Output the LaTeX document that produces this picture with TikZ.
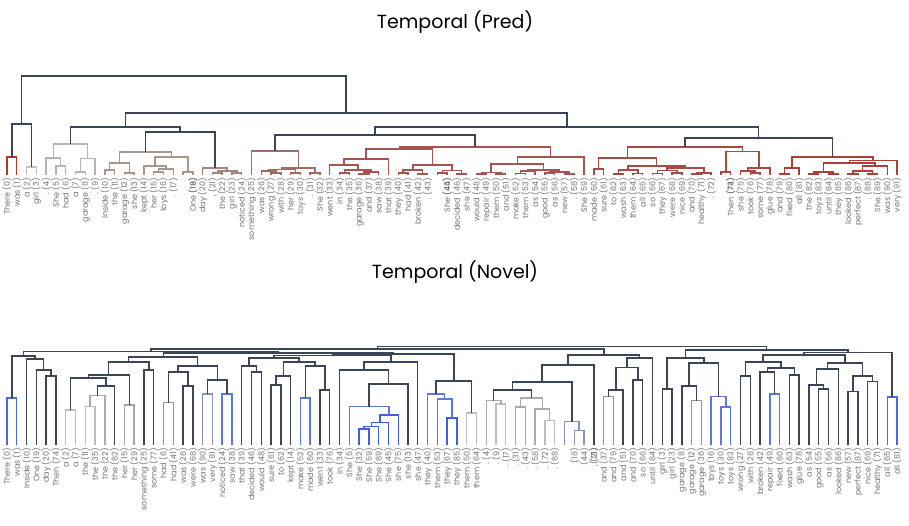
\documentclass[tikz,border=0pt]{standalone}
\usepackage{fontspec}
\setmainfont{Poppins}
\usepackage{tikz}
\usetikzlibrary{calc}

\definecolor{dark}{HTML}{3C4556}
\definecolor{lblgrey}{HTML}{737373}
\definecolor{tred}{HTML}{B03434}
\definecolor{tgreyA}{HTML}{C6C0BC}
\definecolor{tgreyB}{HTML}{BDB2AB}
\definecolor{tbrA}{HTML}{A8968D}
\definecolor{tbrB}{HTML}{A5847A}
\definecolor{tbrC}{HTML}{9E6E65}
\definecolor{tredA}{HTML}{A4554F}
\definecolor{tredB}{HTML}{A74A46}
\definecolor{tredC}{HTML}{AC3E3B}
\definecolor{bblue}{HTML}{4A68E0}
\definecolor{bblueB}{HTML}{5C78DC}
\definecolor{bblueC}{HTML}{3F5FE2}
\definecolor{bbgrey}{HTML}{8A93BE}
\definecolor{bgreyA}{HTML}{BDBDBD}
\definecolor{bgreyB}{HTML}{ABABAE}
\definecolor{bgreyC}{HTML}{A3A6B6}

\tikzset{
  link/.style={line width=1.4pt},
  lbl/.style={rotate=90, anchor=east, inner sep=0pt, text=lblgrey,
    font=\fontsize{8}{9}\selectfont},
  ttl/.style={font=\fontsize{19}{22}\selectfont}
}

% merge two clusters at a given height
\newcommand{\mrg}[5]{%
  \coordinate (mid) at ($(#2)!.5!(#3)$);
  \coordinate (#1) at (mid |- 0,#4);
  \draw[link,#5] (#2) |- (#1) -| (#3);
}

\begin{document}
\begin{tikzpicture}[x=1pt,y=-1pt]
\useasboundingbox (0,0) rectangle (909,526);

\node[ttl] (toptitle) at (455,22) {Temporal (Pred)};
\node[ttl] (bottitle) at (455,272) {Temporal (Novel)};

\foreach \i in {0,...,91} {
  \coordinate (t\i) at ({7+9.78*\i},175);
  \coordinate (b\i) at ({7+9.78*\i},445);
}

% Pred tree
\mrg{tc01}{t0}{t1}{157}{tred}
\mrg{tc23}{t2}{t3}{167}{tgreyA}
\mrg{tcA}{tc01}{tc23}{124}{dark}
\mrg{tc56}{t5}{t6}{166}{tgreyB}
\mrg{tc46}{t4}{tc56}{158}{tgreyB}
\mrg{tc78}{t7}{t8}{172}{tgreyB}
\mrg{tc79}{tc78}{t9}{158.5}{tgreyB}
\mrg{tc49}{tc46}{tc79}{144}{tgreyB}
\mrg{tc1011}{t10}{t11}{170}{tbrA}
\mrg{tc1213}{t12}{t13}{173}{tbrA}
\mrg{tc1013}{tc1011}{tc1213}{163}{tbrA}
\mrg{tc1516}{t15}{t16}{172}{tbrA}
\mrg{tc1517}{tc1516}{t17}{169}{tbrA}
\mrg{tc1417}{t14}{tc1517}{166}{tbrA}
\mrg{tc1819}{t18}{t19}{172}{tbrA}
\mrg{tc1419}{tc1417}{tc1819}{157}{tbrA}
\mrg{tc1019}{tc1013}{tc1419}{152}{tbrA}
\mrg{tc2122}{t21}{t22}{173}{tbrB}
\mrg{tc2324}{t23}{t24}{173}{tbrB}
\mrg{tc2124}{tc2122}{tc2324}{171}{tbrB}
\mrg{tc2024}{t20}{tc2124}{168}{tbrB}
\mrg{tc1024}{tc1019}{tc2024}{132}{dark}
\mrg{tc424}{tc49}{tc1024}{127}{dark}
\mrg{tc2728}{t27}{t28}{173}{tbrC}
\mrg{tc2628}{t26}{tc2728}{171}{tbrC}
\mrg{tc2930}{t29}{t30}{173}{tbrC}
\mrg{tc2630}{tc2628}{tc2930}{169.5}{tbrC}
\mrg{tc3132}{t31}{t32}{173}{tbrC}
\mrg{tc2632}{tc2630}{tc3132}{168}{tbrC}
\mrg{tc2532}{t25}{tc2632}{151}{tbrC}
\mrg{tc3435}{t34}{t35}{173}{tredA}
\mrg{tc3637}{t36}{t37}{174}{tredA}
\mrg{tc3638}{tc3637}{t38}{172}{tredA}
\mrg{tc3438}{tc3435}{tc3638}{170}{tredA}
\mrg{tc3338}{t33}{tc3438}{165}{tredA}
\mrg{tc3339}{tc3338}{t39}{159}{tredA}
\mrg{tc4041}{t40}{t41}{173}{tredA}
\mrg{tc4243}{t42}{t43}{174}{tredA}
\mrg{tc4043}{tc4041}{tc4243}{170}{tredA}
\mrg{tc4445}{t44}{t45}{173}{tredA}
\mrg{tc4647}{t46}{t47}{174}{tredA}
\mrg{tc4447}{tc4445}{tc4647}{170.5}{tredA}
\mrg{tc4047}{tc4043}{tc4447}{165}{tredA}
\mrg{tc3347}{tc3339}{tc4047}{149}{tredA}
\mrg{tc4849}{t48}{t49}{174}{tredA}
\mrg{tc5051}{t50}{t51}{174}{tredA}
\mrg{tc4851}{tc4849}{tc5051}{172.5}{tredA}
\mrg{tc5253}{t52}{t53}{173.5}{tredA}
\mrg{tc5254}{tc5253}{t54}{171}{tredA}
\mrg{tc5556}{t55}{t56}{173}{tredA}
\mrg{tc5758}{t57}{t58}{174}{tredA}
\mrg{tc5558}{tc5556}{tc5758}{172}{tredA}
\mrg{tc5258}{tc5254}{tc5558}{170}{tredA}
\mrg{tc4858}{tc4851}{tc5258}{164}{tredA}
\mrg{tc4859}{tc4858}{t59}{157}{tredA}
\mrg{tc3359}{tc3347}{tc4859}{147}{tredA}
\mrg{tc2559}{tc2532}{tc3359}{135}{dark}
\mrg{tc6061}{t60}{t61}{169}{tredB}
\mrg{tc6263}{t62}{t63}{174}{tredB}
\mrg{tc6465}{t64}{t65}{173.5}{tredB}
\mrg{tc6265}{tc6263}{tc6465}{170}{tredB}
\mrg{tc6667}{t66}{t67}{173.5}{tredB}
\mrg{tc6869}{t68}{t69}{173}{tredB}
\mrg{tc6669}{tc6667}{tc6869}{170.5}{tredB}
\mrg{tc7071}{t70}{t71}{174}{tredB}
\mrg{tc7072}{tc7071}{t72}{173}{tredB}
\mrg{tc6672}{tc6669}{tc7072}{168}{tredB}
\mrg{tc6272}{tc6265}{tc6672}{166}{tredB}
\mrg{tc6072}{tc6061}{tc6272}{158}{tredB}
\mrg{tc7374}{t73}{t74}{172}{tredB}
\mrg{tc7677}{t76}{t77}{173}{tredB}
\mrg{tc7577}{t75}{tc7677}{171}{tredB}
\mrg{tc7578}{tc7577}{t78}{168}{tredB}
\mrg{tc7378}{tc7374}{tc7578}{151.5}{tredB}
\mrg{tc6078}{tc6072}{tc7378}{147}{tredB}
\mrg{tc7980}{t79}{t80}{174}{tredC}
\mrg{tc7981}{tc7980}{t81}{168}{tredC}
\mrg{tc8283}{t82}{t83}{174}{tredC}
\mrg{tc8485}{t84}{t85}{174}{tredC}
\mrg{tc8285}{tc8283}{tc8485}{172}{tredC}
\mrg{tc8687}{t86}{t87}{174}{tredC}
\mrg{tc8889}{t88}{t89}{174}{tredC}
\mrg{tc8689}{tc8687}{tc8889}{171}{tredC}
\mrg{tc8690}{tc8689}{t90}{166}{tredC}
\mrg{tc8290}{tc8285}{tc8690}{163}{tredC}
\mrg{tc8291}{tc8290}{t91}{160.5}{tredC}
\mrg{tc7991}{tc7981}{tc8291}{157}{tredC}
\mrg{tc6091}{tc6078}{tc7991}{138}{dark}
\mrg{tc2591}{tc2559}{tc6091}{127}{dark}
\mrg{tc491}{tc424}{tc2591}{113}{dark}
\mrg{tcroot}{tcA}{tc491}{76}{dark}

\foreach \i/\w in {0/There,1/was,2/a,3/girl,4/.,5/She,6/had,7/a,8/garage,9/.,
  10/Inside,11/the,12/garage,13/she,14/kept,15/her,16/toys,17/.,19/One,20/day,
  21/{,},22/the,23/girl,24/noticed,25/something,26/was,27/wrong,28/with,29/her,
  30/toys,31/.,32/She,33/went,34/in,35/the,36/garage,37/and,38/saw,39/that,
  40/they,41/had,42/broken,43/.,45/She,46/decided,47/she,48/would,49/repair,
  50/them,51/and,52/make,53/them,54/as,55/good,56/as,57/new,58/.,59/She,
  60/made,61/sure,62/to,63/wash,64/them,65/all,66/so,67/they,68/were,69/nice,
  70/and,71/healthy,72/.,74/Then,75/she,76/took,77/some,78/glue,79/and,
  80/fixed,81/all,82/the,83/toys,84/until,85/they,86/looked,87/perfect,88/.,
  89/She,90/was,91/very}
  \node[lbl] (tl\i) at ([yshift=-3pt]t\i) {\w\ (\i)};
\foreach \i in {18,44,73}
  \node[lbl] (tl\i) at ([xshift=9.8pt,yshift=-3pt]t\i) {(\i)};

% Novel tree
\mrg{bc01}{b0}{b1}{398}{bblue}
\mrg{bc45}{b4}{b5}{376}{dark}
\mrg{bc35}{b3}{bc45}{370}{dark}
\mrg{bc25}{b2}{bc35}{359}{dark}
\mrg{bc05}{bc01}{bc25}{356}{dark}
\mrg{bc67}{b6}{b7}{410}{bgreyA}
\mrg{bc89}{b8}{b9}{406.5}{bgreyA}
\mrg{bc810}{bc89}{b10}{395.5}{bgreyB}
\mrg{bc811}{bc810}{b11}{386}{dark}
\mrg{bc611}{bc67}{bc811}{378}{dark}
\mrg{bc1213}{b12}{b13}{405}{bgreyC}
\mrg{bc613}{bc611}{bc1213}{375}{dark}
\mrg{bc1415}{b14}{b15}{370}{dark}
\mrg{bc615}{bc613}{bc1415}{362}{dark}
\mrg{bc1617}{b16}{b17}{402.5}{bbgrey}
\mrg{bc1819}{b18}{b19}{386}{dark}
\mrg{bc1619}{bc1617}{bc1819}{372}{dark}
\mrg{bc2021}{b20}{b21}{394}{bbgrey}
\mrg{bc2223}{b22}{b23}{394}{bblueB}
\mrg{bc2023}{bc2021}{bc2223}{380}{dark}
\mrg{bc1623}{bc1619}{bc2023}{366}{dark}
\mrg{bc623}{bc615}{bc1623}{357}{dark}
\mrg{bc2526}{b25}{b26}{372}{dark}
\mrg{bc2426}{b24}{bc2526}{366}{dark}
\mrg{bc2728}{b27}{b28}{385}{dark}
\mrg{bc2729}{bc2728}{b29}{376}{dark}
\mrg{bc3031}{b30}{b31}{398}{bblueB}
\mrg{bc3233}{b32}{b33}{390}{dark}
\mrg{bc3033}{bc3031}{bc3233}{366}{dark}
\mrg{bc2733}{bc2729}{bc3033}{362}{dark}
\mrg{bc2433}{bc2426}{bc2733}{358}{dark}
\mrg{bc3637}{b36}{b37}{429}{bblueC}
\mrg{bc3638}{bc3637}{b38}{426.5}{bblueC}
\mrg{bc3639}{bc3638}{b39}{422.5}{bblueC}
\mrg{bc3640}{bc3639}{b40}{415}{bblueC}
\mrg{bc3540}{b35}{bc3640}{406.5}{bblueB}
\mrg{bc3541}{bc3540}{b41}{384}{dark}
\mrg{bc3441}{b34}{bc3541}{370}{dark}
\mrg{bc3442}{bc3441}{b42}{362}{dark}
\mrg{bc2442}{bc2433}{bc3442}{355.5}{dark}
\mrg{bc4546}{b45}{b46}{418}{bblueC}
\mrg{bc4446}{b44}{bc4546}{399}{bblueB}
\mrg{bc4346}{b43}{bc4446}{394}{bblueB}
\mrg{bc4748}{b47}{b48}{413}{bgreyA}
\mrg{bc4348}{bc4346}{bc4748}{381}{dark}
\mrg{bc2448}{bc2442}{bc4348}{354}{dark}
\mrg{bc648}{bc623}{bc2448}{353}{dark}
\mrg{bc048}{bc05}{bc648}{351.5}{dark}
\mrg{bc5051}{b50}{b51}{404}{bgreyA}
\mrg{bc4951}{b49}{bc5051}{400.5}{bgreyB}
\mrg{bc5253}{b52}{b53}{407}{bgreyB}
\mrg{bc5556}{b55}{b56}{420.5}{bgreyA}
\mrg{bc5456}{b54}{bc5556}{409}{bgreyB}
\mrg{bc5256}{bc5253}{bc5456}{398}{bgreyB}
\mrg{bc4956}{bc4951}{bc5256}{390}{dark}
\mrg{bc5859}{b58}{b59}{430.5}{bbgrey}
\mrg{bc5759}{b57}{bc5859}{421.5}{bbgrey}
\mrg{bc4959}{bc4956}{bc5759}{382}{dark}
\mrg{bc4960}{bc4959}{b60}{365}{dark}
\mrg{bc6162}{b61}{b62}{396.5}{bbgrey}
\mrg{bc6163}{bc6162}{b63}{390}{dark}
\mrg{bc6465}{b64}{b65}{380}{dark}
\mrg{bc6165}{bc6163}{bc6465}{367.5}{dark}
\mrg{bc6166}{bc6165}{b66}{358}{dark}
\mrg{bc4966}{bc4960}{bc6166}{355}{dark}
\mrg{bcL}{bc048}{bc4966}{349}{dark}
\mrg{bc6768}{b67}{b68}{389}{dark}
\mrg{bc7071}{b70}{b71}{400.5}{bbgrey}
\mrg{bc6971}{b69}{bc7071}{386}{dark}
\mrg{bc7374}{b73}{b74}{407}{bblueB}
\mrg{bc7274}{b72}{bc7374}{396.5}{bblueB}
\mrg{bc6974}{bc6971}{bc7274}{363}{dark}
\mrg{bc6774}{bc6768}{bc6974}{358}{dark}
\mrg{bc7576}{b75}{b76}{376}{dark}
\mrg{bc7879}{b78}{b79}{394}{bblueB}
\mrg{bc7779}{b77}{bc7879}{372}{dark}
\mrg{bc8081}{b80}{b81}{375}{dark}
\mrg{bc7781}{bc7779}{bc8081}{368}{dark}
\mrg{bc7581}{bc7576}{bc7781}{362}{dark}
\mrg{bc8384}{b83}{b84}{389}{dark}
\mrg{bc8284}{b82}{bc8384}{385}{dark}
\mrg{bc8285}{bc8284}{b85}{369}{dark}
\mrg{bc8687}{b86}{b87}{391.5}{dark}
\mrg{bc8889}{b88}{b89}{381.5}{dark}
\mrg{bc8689}{bc8687}{bc8889}{376}{dark}
\mrg{bc8289}{bc8285}{bc8689}{363}{dark}
\mrg{bc7589}{bc7581}{bc8289}{355}{dark}
\mrg{bc9091}{b90}{b91}{397}{bblue}
\mrg{bc7591}{bc7589}{bc9091}{352.5}{dark}
\mrg{bcR}{bc6774}{bc7591}{350}{dark}
\mrg{bcroot}{bcL}{bcR}{346.5}{dark}

\foreach \s/\w/\k in {0/There/0,1/was/1,2/Inside/10,3/One/19,4/day/20,5/Then/74,
  6/a/2,7/a/7,8/the/11,9/the/35,10/the/22,11/the/82,12/her/15,13/her/29,
  14/something/25,15/some/77,16/had/6,17/had/41,18/was/26,19/were/68,20/was/90,
  21/very/91,22/noticed/24,23/saw/38,24/that/39,25/decided/46,26/would/48,
  27/sure/61,28/to/62,29/kept/14,30/make/52,31/made/60,32/went/33,33/took/76,
  34/in/34,35/She/5,36/She/32,37/She/59,38/She/89,39/She/45,40/she/75,
  41/she/13,42/she/47,43/they/40,44/them/53,45/they/67,46/they/85,47/them/50,
  48/them/64,49/./4,50/./9,51/./17,52/./31,53/./43,54/./58,55/./72,56/./88,
  60/{,}/21,61/and/37,62/and/79,63/and/51,64/and/70,65/so/66,66/until/84,
  67/girl/3,68/girl/23,69/garage/8,70/garage/12,71/garage/36,72/toys/16,
  73/toys/30,74/toys/83,75/wrong/27,76/with/28,77/broken/42,78/repair/49,
  79/fixed/80,80/wash/63,81/glue/78,82/as/54,83/good/55,84/as/56,85/looked/86,
  86/new/57,87/perfect/87,88/nice/69,89/healthy/71,90/all/65,91/all/81}
  \node[lbl] (bl\s) at ([yshift=-3pt]b\s) {\w\ (\k)};
\foreach \s/\k in {57/18,58/44,59/73}
  \node[lbl] (bl\s) at ([xshift=9.8pt,yshift=-3pt]b\s) {(\k)};
\end{tikzpicture}
\end{document}
